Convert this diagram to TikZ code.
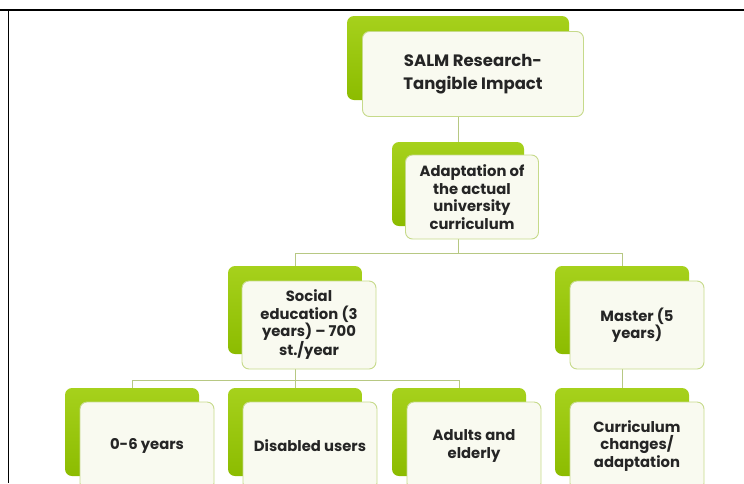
\documentclass[tikz,border=0pt]{standalone}
\usepackage{fontspec}
\setmainfont{Poppins}
\usetikzlibrary{positioning}

\definecolor{leaf}{HTML}{A6D11C}
\definecolor{leafdark}{HTML}{8CBC00}
\definecolor{paper}{HTML}{F9FAF0}
\definecolor{rim}{HTML}{C6DA8A}
\definecolor{twig}{HTML}{B7C883}
\definecolor{ink}{HTML}{252525}

\begin{document}
\begin{tikzpicture}[x=1pt,y=-1pt,on grid,
    back/.style={rectangle,rounded corners=7pt,top color=leaf,bottom color=leafdark,
      minimum width=134pt,minimum height=88pt,inner sep=0pt},
    front/.style={rectangle,rounded corners=7pt,fill=paper,draw=rim,line width=0.9pt,
      minimum width=134pt,minimum height=88pt,inner sep=0pt,align=center,text=ink,
      font=\bfseries\fontsize{14.8}{17.5}\selectfont},
    link/.style={draw=twig,line width=1pt}]
    \useasboundingbox (0,0) rectangle (744,483);
    \clip (0,0) rectangle (744,483);

    % frame
    \draw[line width=2pt] (0,10) -- (744,10);
    \draw[line width=1.5pt] (8.5,10) -- (8.5,483);

    % green back plates
    \node[back,minimum width=222pt,minimum height=84pt] (salm_back) at (458,58) {};
    \node[back,minimum width=132pt,minimum height=84pt] (adapt_back) at (458,184) {};
    \node[back] (social_back) at (295,310) {};
    \node[back] (master_back) at (622,310) {};
    \node[back] (young_back) at (132,432) {};
    \node[back] (disabled_back) at (295,432) {};
    \node[back] (adults_back) at (459,432) {};
    \node[back] (curr_back) at (622,432) {};

    \coordinate (fork_1) at (458,253.5);
    \coordinate (fork_2) at (295,380);

    % tree lines
    \path[link]
    (salm_back.center) -- (adapt_back.north)
    (adapt_back.center) -- (fork_1) -| (social_back.north)
    (fork_1) -| (master_back.north)
    (social_back.center) -- (fork_2) -| (young_back.north)
    (fork_2) -- (disabled_back.north)
    (fork_2) -| (adults_back.north)
    (master_back.center) -- (curr_back.north);

    % text cards
    \node[front,minimum width=221pt,minimum height=85pt,font=\bfseries\fontsize{16.5}{23}\selectfont,
      below right=16pt and 15pt of salm_back] (salm) {SALM Research-\\Tangible Impact};
    \node[front,minimum width=133pt,minimum height=84pt,below right=13pt and 14pt of adapt_back]
      (adapt) {Adaptation of\\the actual\\university\\curriculum};
    \node[front,below right=15pt and 14pt of social_back] (social)
      {Social\\education (3\\years) -- 700\\st./year};
    \node[front,below right=15pt and 15pt of master_back] (master) {Master (5\\years)};
    \node[front,below right=14pt and 15pt of young_back] (young) {0-6 years};
    \node[front,below right=14pt and 15pt of disabled_back] (disabled) {Disabled users};
    \node[front,below right=14pt and 15pt of adults_back] (adults) {Adults and\\elderly};
    \node[front,below right=14pt and 15pt of curr_back] (curr) {Curriculum\\changes/\\adaptation};
\end{tikzpicture}
\end{document}
